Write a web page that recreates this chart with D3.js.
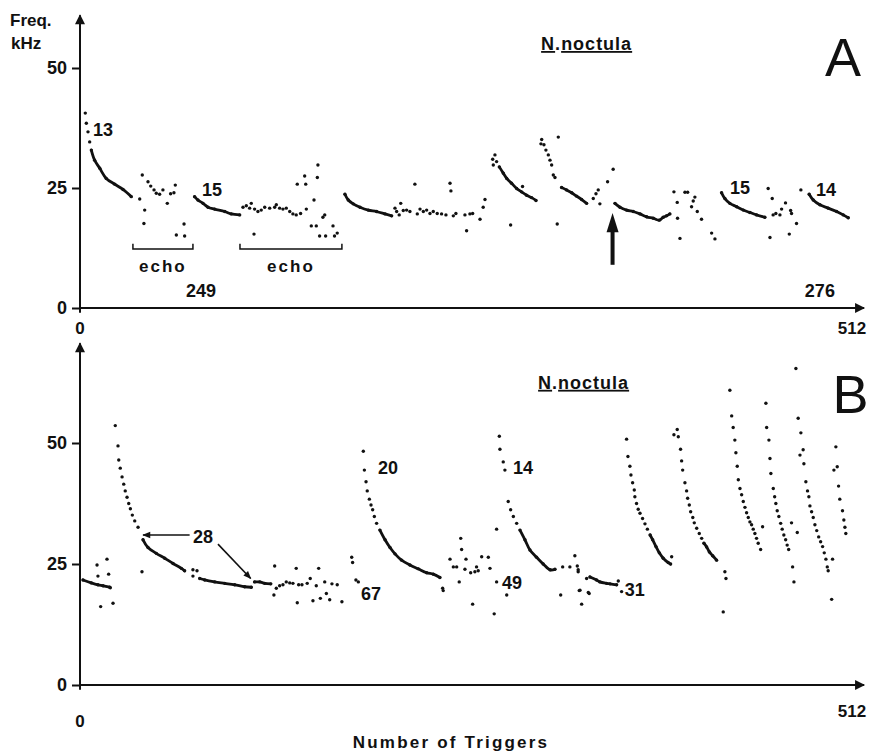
<!DOCTYPE html>
<html>
<head>
<meta charset="utf-8">
<script src="https://cdn.jsdelivr.net/npm/d3@7"></script>
<style>
  body { margin: 0; background: #fff; }
  svg text { font-family: "Liberation Sans", Arial, sans-serif; fill: #111; }
</style>
</head>
<body>
<svg id="chart" width="876" height="755"></svg>
<script>
// values: [trigger number, frequency kHz]
const yTicks = [0, 25, 50];
const xTickLabels = ['0', '512'];

// ---- panel A ----
const a13 = [[7.5,32.9],[9.7,30.8],[13.1,29.1],[17.4,27.0],[23,25.8],[28.5,24.7],[34,23.2]];
const a15 = [[76.0,23.2],[78.2,22.5],[81.6,21.8],[84.9,21.0],[89.3,20.6],[96,20.1],[100.3,19.6],[105.9,19.4]];
const a3 = [[175.7,23.7],[177.9,22.5],[181.2,21.7],[185.7,21.0],[191.2,20.4],[196.7,20.1],[202.3,19.6],[206.7,19.2]];
const a4 = [[278.1,29.4],[280.7,28.1],[283.0,27.0],[286.2,26.0],[289.6,24.9],[292.8,24.2],[296.2,23.5],[299.5,23.0],[302.4,22.4]];
const a5 = [[319.4,25.1],[322.7,24.6],[326.1,24.0],[329.4,23.3],[332.7,22.6],[336.0,21.8]];
const a6 = [[354.8,21.8],[358.1,21.0],[362.5,20.4],[366.9,20.1],[371.4,19.6],[375.8,19.0],[380.2,18.7],[384.2,18.3],[386.8,18.9],[389.0,19.2],[391.2,19.6]];
const a7 = [[425.5,24.0],[427.7,22.8],[431.0,21.8],[435.5,21.1],[439.9,20.4],[444.3,19.9],[448.7,19.4],[454.2,18.9]];
const a8 = [[483.6,23.7],[486.3,22.5],[490.7,21.5],[496.2,20.8],[501.8,20.1],[506.2,19.4],[509.5,18.8]];

const a13Top = [[3.5,40.6],[4.2,38.5],[5.3,36.7],[6.4,34.6]];
const aEcho1 = [[39.6,22.7],[41.3,27.7],[42.9,20.4],[42.4,17.6],[45.1,26.3],[46.9,25.4],[49.1,24.6],[50.6,23.9],
  [52.8,23.7],[55.0,24.6],[57.9,21.8],[60.1,23.8],[62.3,24.0],[63.2,25.6],[63.9,15.2],[69.0,17.5],[69.4,15.0]];
const aEcho2 = [[108.1,21.0],[110.3,21.3],[112.5,20.8],[113.6,21.8],[115.8,20.6],[118.0,20.1],[120.2,20.4],[122.5,21.0],
  [125.8,20.8],[129.1,21.0],[130.2,21.5],[132.4,20.8],[134.6,20.6],[136.8,20.8],[139.1,20.1],[141.2,19.6],[143.4,19.4],
  [146.3,19.7],[115.4,15.4],[144.1,25.8],[149.0,27.5],[149.7,25.8],[157.8,29.8],[157.4,27.2],[155.2,22.5],[150.1,20.6],
  [153.4,17.1],[156.7,17.1],[162.3,19.4],[161.1,18.9],[162.9,15.0],[158.9,15.0],[167.8,17.1],[168.8,15.0],[170.6,15.6]];
const aNoise3 = [[208.9,20.8],[210.0,20.1],[211.7,19.4],[212.7,21.8],[214.4,20.3],[216.6,20.4],[218.8,20.1],[222.1,25.8],
  [223.7,19.6],[225.5,20.6],[227.7,20.1],[229.9,20.4],[232.1,19.7],[234.3,20.1],[236.9,19.7],[239.8,19.6],[242.7,19.4],
  [245.4,26.0],[246.0,24.4],[247.6,19.2],[249.3,19.7],[255.3,19.4],[256.4,16.1],[258.6,19.6],[260.4,19.7],[265.3,18.5],
  [267.4,21.0],[268.6,22.6]];
const a4Top = [[273.7,31.0],[275.2,31.9],[274.1,29.8],[276.3,30.5],[293.5,25.3],[285.6,17.3]];
const a5Top = [[306.2,35.1],[305.7,34.2],[307.7,34.0],[309.0,32.9],[310.6,31.9],[311.7,30.8],[312.8,29.8],[313.9,27.7],
  [315.0,27.2],[317.2,35.6],[316.5,17.5],[340.4,22.8],[342.2,23.8],[343.7,24.6],[344.8,21.7],[349.9,26.3],[353.6,28.9]];
const aNoise6 = [[393.9,24.2],[396.1,22.0],[396.3,18.7],[401.2,24.1],[403.0,24.1],[407.8,23.1],[406.7,22.3],[405.6,21.1],
  [409.4,20.1],[412.2,18.5],[397.9,14.5],[418.9,15.6],[421.1,14.4]];
const aNoise7 = [[456.4,24.9],[459.1,22.8],[459.7,19.4],[461.5,19.7],[464.2,19.4],[465.3,20.6],[467.9,21.9],[471.3,20.3],
  [471.9,19.7],[475.2,17.6],[457.6,14.7],[470.4,15.4],[478.1,24.6]];

// ---- panel B ----
const bStart = [[2.0,21.7],[7.5,21.1],[11.9,20.7],[15.3,20.5],[19.7,20.2]];
const b28 = [[41.8,30.0],[45.1,28.4],[50.6,27.2],[56.2,26.2],[61.7,25.1],[67.2,24.1],[69.4,23.6]];
const b28b = [[79.4,22.0],[82.7,21.7],[89.3,21.3],[96.0,21.0],[102.6,20.7],[109.2,20.3],[113.6,20.2]];
const b28c = [[115.8,21.3],[119.2,21.3],[122.5,21.0],[126.5,20.9]];
const b20 = [[198.9,32.0],[202.3,30.0],[205.6,28.4],[208.9,27.1],[213.3,25.8],[218.8,24.8],[224.3,24.0],[229.9,23.2],[234.3,22.9],[238.7,22.2]];
const b14 = [[291.8,32.0],[295.1,30.0],[298.4,27.9],[302.8,26.4],[307.2,25.0],[311.7,23.8],[315.0,23.9]];
const b31 = [[338.2,22.3],[342.6,21.7],[344.8,21.3],[349.2,21.0],[351.5,20.9],[355.9,20.7]];
const bC1Low = [[378.1,31.0],[379.8,30.0],[382.0,28.6],[384.2,27.3],[386.8,26.2],[390.1,25.3],[391.7,25.0]];
const bC2Low = [[413.8,29.3],[415.6,28.5],[417.4,27.5],[419.6,26.7],[422.2,25.8]];

const bStartDots = [[11.3,24.8],[11.9,22.5],[17.9,26.0],[19.0,22.9],[13.7,16.2],[21.9,16.9],[20.1,20.1]];
const b28Top = [[23.4,53.6],[25.2,49.4],[25.7,46.5],[26.7,44.8],[27.9,43.0],[29.0,41.5],[30.0,40.1],[31.2,38.8],
  [32.3,37.5],[33.4,36.4],[34.7,35.1],[36.3,33.9],[38.5,32.6],[41.1,23.4],[74.9,23.8],[74.9,22.5],[77.6,23.6]];
const bNoise1 = [[129.1,24.6],[128.6,18.6],[130.2,20.0],[132.4,20.5],[134.6,20.7],[136.8,21.3],[139.1,21.1],[141.2,21.0],
  [143.4,24.1],[144.1,17.0],[145.0,20.7],[147.2,20.7],[150.7,21.0],[152.7,22.0],[154.5,17.4],[156.7,20.5],[158.3,24.1],
  [159.4,17.9],[162.3,21.3],[163.4,18.9],[165.6,17.6],[167.1,20.9],[170.6,20.7],[173.7,17.2],[180.2,26.4],[180.8,25.3],
  [183.0,21.7],[184.6,21.3]];
const b20Top = [[187.9,48.3],[188.6,44.4],[189.7,42.0],[190.5,40.1],[191.9,38.4],[193.0,37.2],[194.1,36.2],[195.2,34.8],[196.7,33.4]];
const bNoise2 = [[240.5,20.0],[240.9,19.5],[245.4,26.0],[247.6,24.4],[249.8,24.4],[251.5,21.3],[252.5,30.3],[253.1,28.0],
  [256.0,26.0],[255.3,23.9],[259.1,23.2],[261.9,23.4],[263.0,24.4],[264.1,23.6],[260.4,16.7],[266.4,26.5],[270.8,26.4],
  [271.9,24.1],[276.3,21.3],[276.3,32.2],[283.0,18.6],[274.7,14.7]];
const b14Top = [[278.1,51.4],[278.5,48.7],[280.7,46.1],[281.8,44.4],[284.0,37.9],[285.6,36.2],[287.4,34.8],[289.6,33.4]];
const bNoise3 = [[320.1,24.4],[324.9,24.4],[328.2,26.7],[329.8,24.6],[330.4,23.4],[318.8,18.6],[331.1,19.5],[337.1,19.1],
  [332.7,16.7],[336.0,22.0],[330.4,23.8],[331.6,19.6],[337.7,18.9],[357.0,21.5],[359.2,19.3]];
const bC1 = [[362.5,50.8],[363.4,47.2],[364.7,45.2],[365.4,43.4],[366.5,41.8],[367.6,40.3],[368.0,38.9],[369.1,37.5],
  [370.2,36.3],[371.4,35.5],[373.1,34.4],[374.7,33.3],[376.3,32.2],[392.4,26.5]];
const bC2 = [[396.1,52.8],[393.9,51.7],[396.8,51.3],[398.3,48.7],[399.0,46.3],[399.7,44.4],[401.2,41.8],[402.3,40.1],
  [403.0,38.6],[404.1,37.2],[405.0,35.8],[406.4,34.6],[407.4,33.5],[409.0,32.4],[410.7,31.3],[412.3,30.3],
  [427.7,23.4],[428.4,22.0],[426.6,15.1]];
const bC3 = [[431.0,60.9],[432.2,55.6],[433.2,53.2],[434.3,50.6],[435.0,48.0],[435.9,45.2],[436.6,42.4],[437.7,40.6],
  [438.8,39.3],[439.9,37.9],[441.0,36.7],[442.1,35.6],[443.2,34.6],[444.3,33.7],[445.4,33.1],[446.5,32.2],[447.6,31.3],
  [448.7,30.3],[449.8,29.3],[451.4,28.0],[452.7,32.7]];
const bC4 = [[454.9,58.2],[455.4,53.2],[456.9,50.6],[457.6,46.8],[458.2,43.7],[459.8,40.6],[460.7,38.9],[461.5,37.5],
  [462.4,36.0],[463.5,34.8],[464.7,33.4],[465.7,32.2],[466.8,31.0],[468.0,30.0],[469.0,28.9],[470.0,28.0],
  [471.9,33.5],[475.7,31.5],[472.6,24.4],[473.5,21.3]];
const bC5 = [[474.8,65.4],[476.3,55.1],[478.1,52.1],[479.6,48.6],[477.5,47.5],[480.1,45.7],[481.4,42.0],[482.5,40.1],
  [483.4,38.9],[484.1,37.0],[485.2,35.8],[486.3,34.6],[487.4,33.1],[488.6,31.9],[489.9,30.6],[491.2,29.6],[492.5,28.6],
  [493.6,27.3],[494.7,26.0],[495.6,24.4],[496.2,23.6],[499.1,26.0],[498.5,17.7]];
const bC6 = [[501.3,49.2],[502.2,45.1],[500.0,44.4],[503.1,41.1],[503.9,38.4],[505.7,36.0],[506.6,34.1],[507.3,32.6],[507.9,31.3]];

const linesA = [a13, a15, a3, a4, a5, a6, a7, a8];
const dotsA = [a13Top, aEcho1, aEcho2, aNoise3, a4Top, a5Top, aNoise6, aNoise7];
const linesB = [bStart, b28, b28b, b28c, b20, b14, b31, bC1Low, bC2Low];
const dotsB = [bStartDots, b28Top, bNoise1, b20Top, bNoise2, b14Top, bNoise3, bC1, bC2, bC3, bC4, bC5, bC6];

// curve labels: [trigger, kHz, text]
const labelsA = [[15.3, 37.1, '13'], [87.5, 24.6, '15'], [437.7, 25.2, '15'], [494.7, 24.6, '14']];
const labelsB = [[204.2, 45.0, '20'], [293.8, 45.0, '14'], [193, 19.0, '67'], [286.5, 21.1, '49'], [368, 19.8, '31'], [81.6, 30.6, '28']];
const countsA = [[80.3, 2.3, '249'], [490.7, 2.3, '276']];
const echoBrackets = [[35.1, 74.9], [106.1, 173.7]];

const svg = d3.select('#chart');
const x = d3.scaleLinear().domain([0, 512]).range([80, 852]);
const yA = d3.scaleLinear().domain([0, 50]).range([308, 68]);
const yB = d3.scaleLinear().domain([0, 50]).range([685, 443]);

const defs = svg.append('defs');
defs.append('marker').attr('id', 'head')
  .attr('viewBox', '0 0 10 10').attr('refX', 9).attr('refY', 5)
  .attr('markerWidth', 6).attr('markerHeight', 5).attr('orient', 'auto')
  .append('path').attr('d', 'M0,0 L10,5 L0,10 z').attr('fill', '#111');
defs.append('marker').attr('id', 'thin')
  .attr('viewBox', '0 0 10 10').attr('refX', 9).attr('refY', 5)
  .attr('markerWidth', 6).attr('markerHeight', 5).attr('orient', 'auto')
  .append('path').attr('d', 'M0,1 L10,5 L0,9 z').attr('fill', '#111');

function drawPanel(y, topK, lines, dots, titleT, titleK, letter, letterT, letterK) {
  const g = svg.append('g');

  // axes
  g.append('line')
    .attr('x1', x(0)).attr('x2', x(0))
    .attr('y1', y(-1)).attr('y2', y(topK))
    .attr('stroke', '#111').attr('stroke-width', 2)
    .attr('marker-end', 'url(#head)');
  g.append('line')
    .attr('x1', x(0)).attr('x2', x(520))
    .attr('y1', y(0)).attr('y2', y(0))
    .attr('stroke', '#111').attr('stroke-width', 2)
    .attr('marker-end', 'url(#head)');

  g.append('g')
    .attr('transform', `translate(${x(0)},0)`)
    .call(d3.axisLeft(y).tickValues(yTicks).tickSize(8).tickPadding(5).tickSizeOuter(0))
    .call(a => a.select('.domain').remove())
    .call(a => a.selectAll('line').attr('stroke', '#111').attr('stroke-width', 2))
    .call(a => a.selectAll('text').attr('fill', '#111')
      .style('font-size', '18px').style('font-weight', 'bold')
      .style('font-family', '"Liberation Sans", Arial, sans-serif'));

  // dense runs
  const line = d3.line().x(d => x(d[0])).y(d => y(d[1])).curve(d3.curveCatmullRom);
  g.selectAll('path.run').data(lines).enter().append('path')
    .attr('class', 'run')
    .attr('d', line)
    .attr('fill', 'none').attr('stroke', '#111')
    .attr('stroke-width', 2.8).attr('stroke-linecap', 'round');

  const allDots = [].concat(...lines, ...dots);
  g.selectAll('circle').data(allDots).enter().append('circle')
    .attr('cx', d => x(d[0])).attr('cy', d => y(d[1]))
    .attr('r', 1.7).attr('fill', '#111');

  // title
  const t = g.append('text')
    .attr('x', x(titleT)).attr('y', y(titleK))
    .attr('text-anchor', 'middle')
    .style('font-size', '18px').style('font-weight', 'bold')
    .style('letter-spacing', '1px');
  t.append('tspan').text('N').style('text-decoration', 'underline');
  t.append('tspan').text('.');
  t.append('tspan').text('noctula').style('text-decoration', 'underline');

  g.append('text')
    .attr('x', x(letterT)).attr('y', y(letterK))
    .attr('text-anchor', 'middle')
    .style('font-size', '54px')
    .text(letter);

  // x labels
  g.selectAll('text.xl').data(xTickLabels).enter().append('text')
    .attr('class', 'xl')
    .attr('x', (d, i) => x(i ? 512 : 0))
    .attr('text-anchor', 'middle')
    .style('font-size', '17px').style('font-weight', 'bold')
    .text(d => d);
  return g;
}

const gA = drawPanel(yA, 61, linesA, dotsA, 336, 53.75, 'A', 506, 48.3);
gA.selectAll('text.xl').attr('y', 334);
const gB = drawPanel(yB, 70.6, linesB, dotsB, 334, 61.2, 'B', 511, 56.2);
gB.selectAll('text.xl').attr('y', (d, i) => i ? 717 : 727);

// curve labels
function addLabels(g, y, labels, size) {
  g.selectAll(null).data(labels).enter().append('text')
    .attr('x', d => x(d[0])).attr('y', d => y(d[1]))
    .attr('dy', '0.36em')
    .attr('text-anchor', 'middle')
    .style('font-size', size + 'px').style('font-weight', 'bold')
    .text(d => d[2]);
}
addLabels(gA, yA, labelsA, 18);
addLabels(gB, yB, labelsB, 18);
gA.selectAll(null).data(countsA).enter().append('text')
  .attr('x', d => x(d[0])).attr('y', d => yA(d[1]))
  .attr('text-anchor', 'middle')
  .style('font-size', '18px').style('font-weight', 'bold')
  .text(d => d[2]);

// echo brackets
echoBrackets.forEach(b => {
  gA.append('path')
    .attr('d', `M${x(b[0])},${yA(13.4)} V${yA(12.3)} H${x(b[1])} V${yA(13.4)}`)
    .attr('fill', 'none').attr('stroke', '#111').attr('stroke-width', 1.5);
  gA.append('text')
    .attr('x', x((b[0] + b[1]) / 2)).attr('y', yA(7.5))
    .attr('text-anchor', 'middle')
    .style('font-size', '17px').style('font-weight', 'bold').style('letter-spacing', '2px')
    .text('echo');
});

// arrow under panel A
gA.append('line')
  .attr('x1', x(353.2)).attr('x2', x(353.2))
  .attr('y1', yA(9.0)).attr('y2', yA(16.8))
  .attr('stroke', '#111').attr('stroke-width', 4);
gA.append('path')
  .attr('d', `M${x(353.2)},${yA(19.8)} L${x(353.2) + 6},${yA(15.8)} L${x(353.2) - 6},${yA(15.8)} Z`)
  .attr('fill', '#111');

// "28" pointers in panel B
[[[72.7, 31.0], [41.8, 31.0]], [[91.5, 29.1], [113.2, 22.0]]].forEach(seg => {
  gB.append('line')
    .attr('x1', x(seg[0][0])).attr('y1', yB(seg[0][1]))
    .attr('x2', x(seg[1][0])).attr('y2', yB(seg[1][1]))
    .attr('stroke', '#111').attr('stroke-width', 1.6)
    .attr('marker-end', 'url(#thin)');
});

// axis titles
svg.append('text').attr('x', 10).attr('y', 26)
  .style('font-size', '17px').style('font-weight', 'bold').text('Freq.');
svg.append('text').attr('x', 11).attr('y', 49)
  .style('font-size', '17px').style('font-weight', 'bold').text('kHz');
svg.append('text').attr('x', 451).attr('y', 748)
  .attr('text-anchor', 'middle')
  .style('font-size', '17px').style('font-weight', 'bold').style('letter-spacing', '2.2px')
  .text('Number of Triggers');
</script>
</body>
</html>
